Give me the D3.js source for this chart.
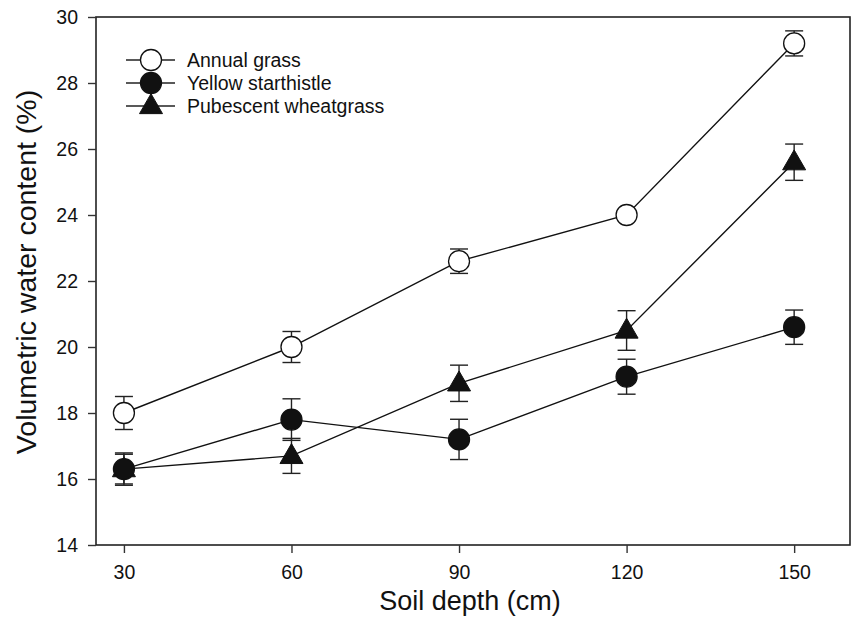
<!DOCTYPE html>
<html>
<head>
<meta charset="utf-8">
<script src="https://cdn.jsdelivr.net/npm/d3@7"></script>
<style>
  body { margin: 0; background: #fff; }
  text { font-family: "Liberation Sans", Arial, sans-serif; fill: #111; }
</style>
</head>
<body>
<svg id="chart" width="855" height="629"></svg>
<script>
// data
const depths = [30, 60, 90, 120, 150];
const seriesNames = ['Annual grass', 'Yellow starthistle', 'Pubescent wheatgrass'];
const annualMean = [18.0, 20.0, 22.6, 24.0, 29.2];
const annualErr  = [0.5, 0.47, 0.37, 0.1, 0.38];
const yellowMean = [16.3, 17.8, 17.2, 19.1, 20.6];
const yellowErr  = [0.49, 0.63, 0.61, 0.53, 0.52];
const pubMean    = [16.3, 16.7, 18.9, 20.5, 25.6];
const pubErr     = [0.45, 0.53, 0.55, 0.6, 0.55];
const xTicks = [30, 60, 90, 120, 150];
const yTicks = [14, 16, 18, 20, 22, 24, 26, 28, 30];

const plotLeft = 96, plotRight = 850, plotTop = 17, plotBottom = 545;
const markR = 10.5;
const triArea = Math.sqrt(3) / 4 * 23 * 23;

const svg = d3.select('#chart');
const x = d3.scaleLinear().domain([25, 160]).range([plotLeft, plotRight]);
const y = d3.scaleLinear().domain([14, 30]).range([plotBottom, plotTop]);

const series = [
    {name: seriesNames[2], mean: pubMean, err: pubErr, shape: 'tri', fill: '#111'},
    {name: seriesNames[1], mean: yellowMean, err: yellowErr, shape: 'circle', fill: '#111'},
    {name: seriesNames[0], mean: annualMean, err: annualErr, shape: 'circle', fill: '#fff'}
];

// frame
svg.append('rect')
    .attr('x', plotLeft).attr('y', plotTop)
    .attr('width', plotRight - plotLeft).attr('height', plotBottom - plotTop)
    .style('fill', 'none')
    .style('stroke', '#222')
    .style('stroke-width', 1.6);

// axes
const xAxis = svg.append('g')
    .attr('transform', `translate(0,${plotBottom})`)
    .call(d3.axisBottom(x).tickValues(xTicks).tickSize(8).tickPadding(12));
const yAxis = svg.append('g')
    .attr('transform', `translate(${plotLeft},0)`)
    .call(d3.axisLeft(y).tickValues(yTicks).tickSize(8).tickPadding(10));
[xAxis, yAxis].forEach(a => {
    a.select('.domain').remove();
    a.selectAll('line').style('stroke', '#333').style('stroke-width', 1.4);
    a.selectAll('text').style('font-size', '19.5px').style('fill', '#111')
        .style('font-family', '"Liberation Sans", Arial, sans-serif');
});

// axis titles
svg.append('text')
    .attr('x', 470).attr('y', 610)
    .attr('text-anchor', 'middle')
    .style('font-size', '27px')
    .text('Soil depth (cm)');
svg.append('text')
    .attr('transform', 'translate(36,272) rotate(-90)')
    .attr('text-anchor', 'middle')
    .style('font-size', '28.5px')
    .text('Volumetric water content (%)');

const line = d3.line()
    .x((d, i) => x(depths[i]))
    .y(d => y(d));

function drawMarker(g, s) {
    if (s.shape === 'tri') {
        g.append('path')
            .attr('d', d3.symbol(d3.symbolTriangle, triArea)())
            .attr('transform', 'translate(0,1)')
            .style('fill', s.fill)
            .style('stroke', '#111')
            .style('stroke-width', 1);
    } else {
        g.append('circle')
            .attr('r', markR)
            .style('fill', s.fill)
            .style('stroke', '#111')
            .style('stroke-width', 1.3);
    }
}

series.forEach(s => {
    const g = svg.append('g');
    g.append('path')
        .datum(s.mean)
        .attr('d', line)
        .style('fill', 'none')
        .style('stroke', '#111')
        .style('stroke-width', 1.4);

    const pts = s.mean.map((m, i) => ({x: depths[i], m: m, e: s.err[i]}));
    const bars = g.selectAll('.bar').data(pts).enter().append('g').attr('class', 'bar');
    bars.append('line')
        .attr('x1', d => x(d.x)).attr('x2', d => x(d.x))
        .attr('y1', d => y(d.m + d.e)).attr('y2', d => y(d.m - d.e));
    bars.append('line')
        .attr('x1', d => x(d.x) - 9).attr('x2', d => x(d.x) + 9)
        .attr('y1', d => y(d.m + d.e)).attr('y2', d => y(d.m + d.e));
    bars.append('line')
        .attr('x1', d => x(d.x) - 9).attr('x2', d => x(d.x) + 9)
        .attr('y1', d => y(d.m - d.e)).attr('y2', d => y(d.m - d.e));
    bars.selectAll('line').style('stroke', '#222').style('stroke-width', 1.4);

    g.selectAll('.mark').data(pts).enter().append('g')
        .attr('class', 'mark')
        .attr('transform', d => `translate(${x(d.x)},${y(d.m)})`)
        .each(function() { drawMarker(d3.select(this), s); });
});

// legend
const legendRows = [
    {name: seriesNames[0], s: series[2], y: 60},
    {name: seriesNames[1], s: series[1], y: 83},
    {name: seriesNames[2], s: series[0], y: 106}
];
const lg = svg.selectAll('.legend').data(legendRows).enter().append('g')
    .attr('class', 'legend')
    .attr('transform', d => `translate(0,${d.y})`);
lg.append('line')
    .attr('x1', 126).attr('x2', 175)
    .style('stroke', '#222').style('stroke-width', 1.4);
lg.append('g')
    .attr('transform', 'translate(151,0)')
    .each(function(d) { drawMarker(d3.select(this), d.s); });
lg.append('text')
    .attr('x', 187).attr('y', 7)
    .style('font-size', '19.5px')
    .text(d => d.name);
</script>
</body>
</html>
